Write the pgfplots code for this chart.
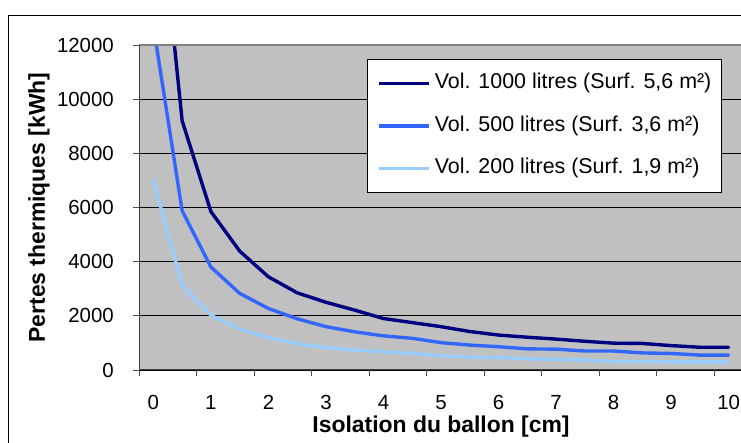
\documentclass[border=0pt]{standalone}
\usepackage{pgfplots}
\usepackage{pgfplotstable}
\pgfplotsset{compat=1.18}
\usepackage{fontspec}
\setmainfont{Liberation Sans}
\definecolor{cA}{HTML}{000080}
\definecolor{cB}{HTML}{3366FF}
\definecolor{cC}{HTML}{99CCFF}
\definecolor{plotbg}{HTML}{C0C0C0}
\pgfplotstableread{
x  v1000 v500 v200
0  19600 12700 7000
1  9200  5880  3130
2  5850  3800  2020
3  4390  2830  1500
4  3440  2270  1200
5  2850  1890  970
6  2500  1600  830
7  2210  1410  740
8  1900  1260  670
9  1750  1170  610
10 1600  1010  530
11 1420  920   470
12 1290  860   460
13 1210  780   410
14 1140  770   390
15 1060  700   370
16 990   700   310
17 980   630   310
18 900   610   300
19 840   550   300
20 840   550   300
}\data
\begin{document}
\begin{tikzpicture}[x=1bp,y=1bp]
\begin{axis}[
  at={(139bp,73bp)}, anchor=south west,
  scale only axis, width=604bp, height=325bp,
  xmin=-0.5, xmax=20.5, ymin=0, ymax=12000,
  scaled y ticks=false,
  clip mode=individual,
  axis background/.style={fill=plotbg},
  axis line style={draw=none},
  xtick={-0.5,1.5,...,19.5}, xticklabels={},
  extra x ticks={0,2,...,20},
  extra x tick labels={0,1,2,3,4,5,6,7,8,9,10},
  extra x tick style={major tick length=0pt},
  ytick={0,2000,...,12000},
  yticklabels={0,2000,4000,6000,8000,10000,12000},
  ymajorgrids, major grid style={black, line width=0.8bp},
  xtick pos=bottom, ytick pos=left,
  tick align=outside, major tick length=6bp,
  tick style={black!70, line width=0.8bp},
  xticklabel style={font=\fontsize{20.5}{24}\selectfont, anchor=north, inner sep=0pt, yshift=-25bp},
  yticklabel style={font=\fontsize{20.5}{24}\selectfont, anchor=east, inner sep=0pt, xshift=-19bp},
  xlabel={Isolation du ballon [cm]},
  ylabel={Pertes thermiques [kWh]},
  xlabel style={at={(axis description cs:0.5,-0.175)}, anchor=center, font=\bfseries\fontsize{23}{27}\selectfont},
  ylabel style={at={(axis description cs:-0.1656,0.5)}, anchor=center, font=\bfseries\fontsize{23}{27}\selectfont},
  legend style={at={(0.3775,0.956)}, anchor=north west, draw=black, line width=0.8bp, fill=white,
    font=\fontsize{21.5}{25}\selectfont, inner xsep=10bp, inner ysep=15bp, row sep=24.5bp, column sep=4bp,
    nodes={inner sep=0pt, text height=14bp, text depth=4bp}},
  legend cell align=left,
  legend image code/.code={\draw[#1, line width=3.4bp, line cap=butt] (0bp,0bp) -- (50bp,0bp);},
  every axis plot/.append style={line width=3.4bp, line join=round, line cap=round, mark=none},
]
\addplot[cA] table[x=x, y=v1000] {\data};
\addlegendentry{Vol. 1000 litres (Surf. 5,6 m²)}
\addplot[cB] table[x=x, y=v500] {\data};
\addlegendentry{Vol. 500 litres (Surf. 3,6 m²)}
\addplot[cC] table[x=x, y=v200] {\data};
\addlegendentry{Vol. 200 litres (Surf. 1,9 m²)}
\draw[color=gray, line width=1.5bp] (rel axis cs:0,1) -- (rel axis cs:1,1);
\draw[black!75, line width=1bp] (rel axis cs:0,1) -- (rel axis cs:0,0) -- (rel axis cs:1,0);
\end{axis}
\draw[black, line width=1.5bp] (8.5,-20) -- (8.5,427.5) -- (760,427.5);
\pgfresetboundingbox
\path[use as bounding box] (0,0) rectangle (741,443);
\end{tikzpicture}
\end{document}
